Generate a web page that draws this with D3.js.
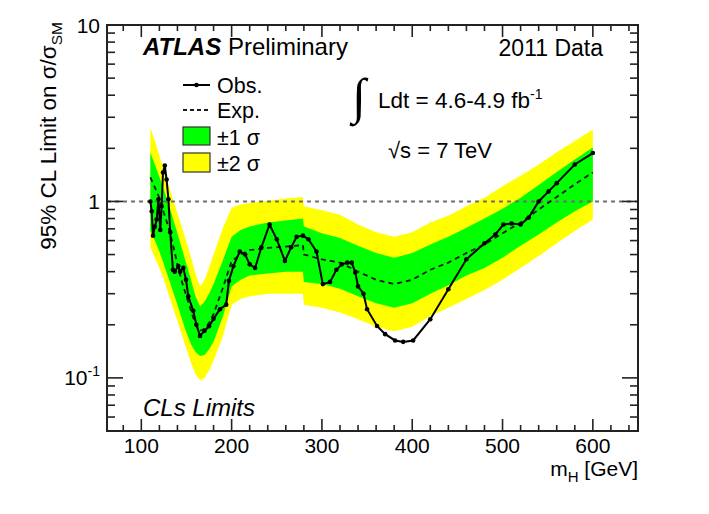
<!DOCTYPE html>
<html><head><meta charset="utf-8">
<script src="https://cdn.jsdelivr.net/npm/d3@7"></script>
<style>
body{margin:0;background:#fff;}
text{font-family:"Liberation Sans",Arial,Helvetica,sans-serif;fill:#000;}
</style></head><body>
<svg id="c" width="709" height="514"></svg>
<script>
// ---- data ----
const obsMass  = [110,111.5,113,115,117,119,121,122.5,124,126,128,130,132,135,137,141,143,146.5,149.5,152,157.5,161,165,170,175,180,187,194,197,202,209,215,220,226,233,242,250,259,266,272,279,285,294,301,309,316,322,328,333,337,340,346,350,361,370,381,390,401,420,440,460,480,492,501,510,520,529,540,551,560,580,600];
const obsValue = [1.0,0.88,0.64,0.72,0.79,1.03,0.69,0.94,1.46,1.6,1.33,1.03,0.67,0.41,0.40,0.43,0.40,0.42,0.36,0.29,0.24,0.20,0.173,0.185,0.196,0.216,0.245,0.26,0.355,0.43,0.52,0.50,0.44,0.42,0.55,0.74,0.61,0.46,0.55,0.63,0.64,0.61,0.52,0.34,0.35,0.41,0.44,0.45,0.45,0.395,0.33,0.30,0.245,0.197,0.177,0.163,0.16,0.163,0.215,0.318,0.47,0.58,0.65,0.74,0.75,0.74,0.81,1.0,1.14,1.27,1.62,1.88];

const bandMass = [110,115,120,125,130,135,140,145,150,155,160,165,170,175,180,190,200,210,220,240,260,279,280,300,320,340,360,380,400,420,440,460,480,500,520,540,560,580,600];
const expValue = [1.37,1.2,1.05,0.86,0.72,0.57,0.44,0.35,0.29,0.24,0.2,0.185,0.19,0.205,0.23,0.32,0.46,0.5,0.53,0.545,0.555,0.565,0.5,0.47,0.45,0.4,0.36,0.34,0.36,0.41,0.45,0.51,0.57,0.66,0.76,0.9,1.06,1.25,1.46];
const minus2   = [0.55,0.48,0.42,0.36,0.3,0.25,0.21,0.175,0.145,0.122,0.105,0.097,0.1,0.11,0.125,0.17,0.26,0.28,0.29,0.3,0.3,0.3,0.26,0.25,0.235,0.215,0.195,0.184,0.195,0.224,0.25,0.28,0.315,0.36,0.42,0.49,0.58,0.68,0.79];
const minus1   = [0.68,0.6,0.52,0.44,0.37,0.31,0.26,0.215,0.18,0.155,0.14,0.133,0.135,0.145,0.16,0.22,0.33,0.36,0.38,0.39,0.4,0.4,0.35,0.34,0.32,0.29,0.265,0.25,0.265,0.3,0.335,0.38,0.42,0.48,0.56,0.65,0.76,0.88,1.0];
const plus1    = [1.89,1.62,1.38,1.16,0.98,0.8,0.66,0.54,0.44,0.36,0.29,0.255,0.27,0.3,0.34,0.46,0.63,0.69,0.72,0.76,0.78,0.8,0.72,0.66,0.62,0.56,0.51,0.48,0.51,0.57,0.63,0.71,0.8,0.91,1.05,1.24,1.47,1.73,2.02];
const plus2    = [2.62,2.2,1.82,1.5,1.24,1.03,0.86,0.71,0.59,0.48,0.39,0.33,0.36,0.42,0.5,0.7,0.92,0.96,0.98,1.01,1.04,1.06,0.94,0.89,0.84,0.74,0.67,0.63,0.67,0.76,0.83,0.94,1.05,1.22,1.4,1.62,1.9,2.2,2.55];

const xMajorTicks = [100,200,300,400,500,600];
const xMinorTicks = [80,120,140,160,180,220,240,260,280,320,340,360,380,420,440,460,480,520,540,560,580,620,640];
const yMajorTicks = [0.1,1,10];
const yMajorLabels = [["10","-1"],["1",""],["10",""]];
const yMinorTicks = [0.05,0.06,0.07,0.08,0.09,0.2,0.3,0.4,0.5,0.6,0.7,0.8,0.9,2,3,4,5,6,7,8,9];
const legendLabels = ["Obs.","Exp.","±1 σ","±2 σ"];

// ---- scales ----
const svg = d3.select("#c");
const L=107,R=638,T=25,B=431;
const x = d3.scaleLinear().domain([62,650]).range([L,R]);
const y = d3.scaleLog().domain([0.05,10]).range([B,T]);

const band = bandMass.map((m,i)=>({m, e:expValue[i], m2:minus2[i], m1:minus1[i], p1:plus1[i], p2:plus2[i]}));
const obs = obsMass.map((m,i)=>({m, v:obsValue[i]}));

svg.append("path").datum(band).attr("fill","#ffff00")
  .attr("d", d3.area().x(d=>x(d.m)).y0(d=>y(d.m2)).y1(d=>y(d.p2)));
svg.append("path").datum(band).attr("fill","#00ff00")
  .attr("d", d3.area().x(d=>x(d.m)).y0(d=>y(d.m1)).y1(d=>y(d.p1)));

// line at 1
svg.append("line").attr("x1",L).attr("x2",R).attr("y1",y(1)).attr("y2",y(1))
  .attr("stroke","#6e6e6e").attr("stroke-width",2).attr("stroke-dasharray","4,4");

// expected
svg.append("path").datum(band).attr("fill","none").attr("stroke","#1a1a1a")
  .attr("stroke-width",1.8).attr("stroke-dasharray","5,4")
  .attr("d", d3.line().x(d=>x(d.m)).y(d=>y(d.e)));

// observed
svg.append("path").datum(obs).attr("fill","none").attr("stroke","#000")
  .attr("stroke-width",2).attr("d", d3.line().x(d=>x(d.m)).y(d=>y(d.v)));
svg.append("g").selectAll("circle").data(obs).join("circle")
  .attr("cx",d=>x(d.m)).attr("cy",d=>y(d.v)).attr("r",2.3).attr("fill","#000");

// frame & ticks
const ax = svg.append("g").attr("stroke","#222").attr("stroke-width",1.6);
function vt(v,len){ax.append("line").attr("x1",x(v)).attr("x2",x(v)).attr("y1",B).attr("y2",B-len);
  ax.append("line").attr("x1",x(v)).attr("x2",x(v)).attr("y1",T).attr("y2",T+len);}
function ht(v,len){ax.append("line").attr("y1",y(v)).attr("y2",y(v)).attr("x1",L).attr("x2",L+len);
  ax.append("line").attr("y1",y(v)).attr("y2",y(v)).attr("x1",R).attr("x2",R-len);}
xMajorTicks.forEach(v=>vt(v,12)); xMinorTicks.forEach(v=>vt(v,6));
yMajorTicks.forEach(v=>ht(v,16)); yMinorTicks.forEach(v=>ht(v,8));
svg.append("rect").attr("x",L).attr("y",T).attr("width",R-L).attr("height",B-T)
  .attr("fill","none").attr("stroke","#222").attr("stroke-width",2);

// tick labels
svg.append("g").selectAll("text").data(xMajorTicks).join("text")
  .attr("x",d=>x(d)).attr("y",453).attr("text-anchor","middle").attr("font-size",21).text(d=>d);
yMajorTicks.forEach((v,i)=>{
  const t = svg.append("text").attr("x",100).attr("y",y(v)+7.5).attr("text-anchor","end").attr("font-size",21);
  t.append("tspan").text(yMajorLabels[i][0]);
  if(yMajorLabels[i][1]) t.append("tspan").attr("dy",-9).attr("font-size",14).text(yMajorLabels[i][1]);
});

// axis titles
const xt = svg.append("text").attr("x",R).attr("y",476).attr("text-anchor","end").attr("font-size",21);
xt.append("tspan").text("m");
xt.append("tspan").attr("dy",6).attr("font-size",15).text("H");
xt.append("tspan").attr("dy",-6).text(" [GeV]");

const yt = svg.append("text").attr("transform","translate(56,22) rotate(-90)").attr("text-anchor","end").attr("font-size",22.5);
yt.append("tspan").text("95% CL Limit on σ/σ");
yt.append("tspan").attr("dy",6).attr("font-size",15.5).text("SM");

// labels
const at = svg.append("text").attr("x",143).attr("y",55).attr("font-size",24);
at.append("tspan").attr("font-weight","bold").attr("font-style","italic").text("ATLAS");
at.append("tspan").text(" Preliminary");
svg.append("text").attr("x",603).attr("y",56).attr("text-anchor","end").attr("font-size",23).text("2011 Data");
svg.append("text").attr("x",352).attr("y",113).attr("font-size",50).style("font-family","DejaVu Sans").attr("font-weight","300").text("∫");
const lt = svg.append("text").attr("x",378).attr("y",108).attr("font-size",22.5);
lt.append("tspan").text("Ldt = 4.6-4.9 fb");
lt.append("tspan").attr("dy",-9).attr("font-size",14).text("-1");
svg.append("text").attr("x",388).attr("y",158).attr("font-size",22).text("√s = 7 TeV");
svg.append("text").attr("x",143).attr("y",416).attr("font-size",24).attr("font-style","italic").text("CLs Limits");

// legend
const lg = svg.append("g");
lg.append("line").attr("x1",183).attr("x2",210).attr("y1",85).attr("y2",85).attr("stroke","#000").attr("stroke-width",2);
lg.append("circle").attr("cx",196.5).attr("cy",85).attr("r",2.3).attr("fill","#000");
lg.append("line").attr("x1",183).attr("x2",210).attr("y1",110).attr("y2",110).attr("stroke","#1a1a1a").attr("stroke-width",1.8).attr("stroke-dasharray","4,3");
lg.append("rect").attr("x",183).attr("y",127).attr("width",27).attr("height",18).attr("fill","#00ff00").attr("stroke","#333").attr("stroke-width",1.2);
lg.append("rect").attr("x",183).attr("y",153).attr("width",27).attr("height",19).attr("fill","#ffff00").attr("stroke","#333").attr("stroke-width",1.2);
lg.selectAll("text.lg").data(legendLabels).join("text").attr("class","lg")
  .attr("x",217).attr("y",(d,i)=>[93,118,145,171][i]).attr("font-size",21.5).text(d=>d);
</script>
</body></html>
